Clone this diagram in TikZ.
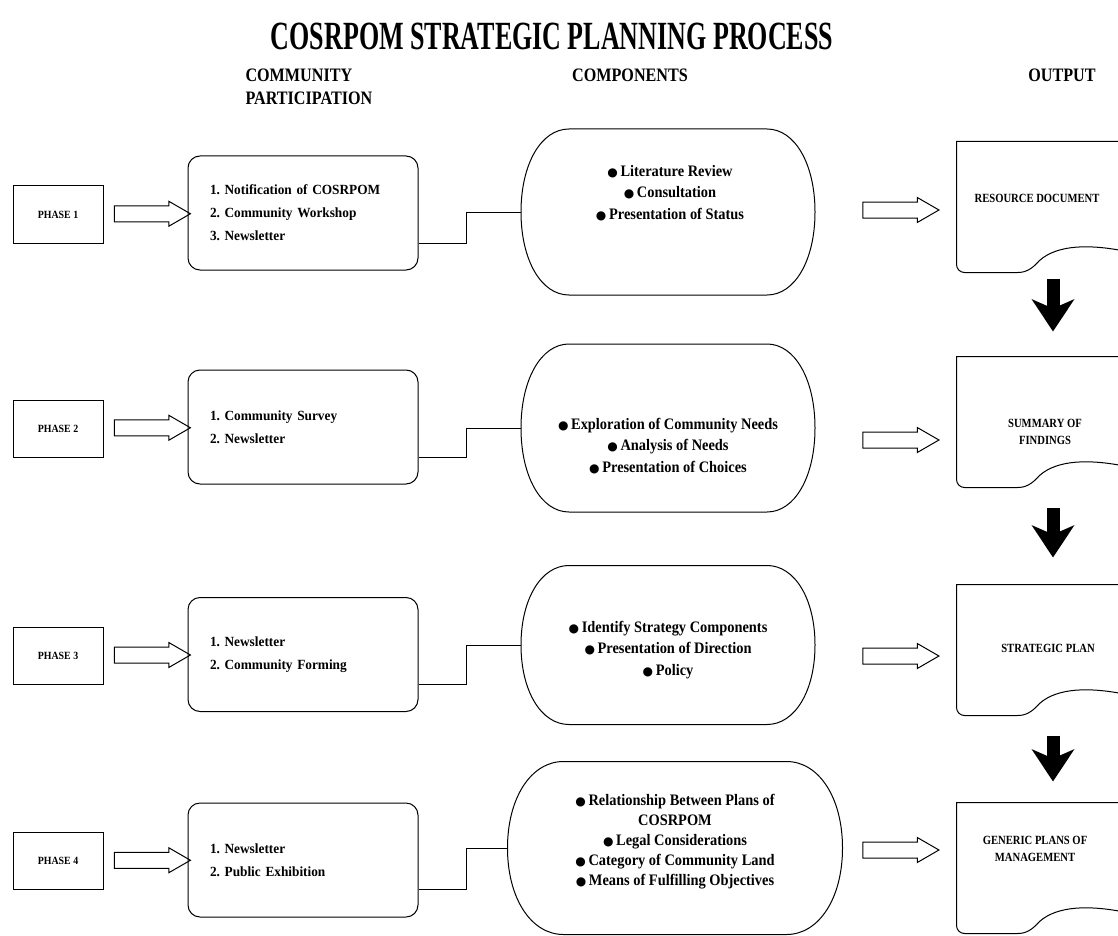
\documentclass[tikz,border=0pt]{standalone}
\usepackage{fontspec}
\setmainfont{Liberation Serif}
\newfontfamily\ttlfont[FakeStretch=0.65]{Liberation Serif Bold}
\newfontfamily\hdrfont[FakeStretch=0.85]{Liberation Serif Bold}
\newfontfamily\txtfont[FakeStretch=0.9]{Liberation Serif Bold}
\newfontfamily\partfont[FakeStretch=0.95]{Liberation Serif Bold}
\newfontfamily\symfont{DejaVu Sans}
\usetikzlibrary{shapes.arrows,arrows.meta,calc}
\frenchspacing
\newcommand{\blt}{{\symfont\fontsize{12}{12}\selectfont ●}\,}
\newcommand{\docoutline}[1]{%
  \draw (#1.north west) -- (#1.north east) -- ($(#1.south east)+(0,-22)$)
    .. controls ($(#1.south east)+(-32,-28)$) and ($(#1.south east)+(-64,-28)$) .. ($(#1.south east)+(-82,-12)$)
    .. controls ($(#1.south east)+(-90,-3)$) and ($(#1.south east)+(-96,0)$) .. ($(#1.south east)+(-104,0)$)
    [rounded corners=8pt] -- (#1.south west) [sharp corners] -- cycle;}
\newcommand{\compoutline}[2]{%
  \draw ($(#1.north west)+(#2,0)$) -- ($(#1.north east)+(-#2,0)$)
    .. controls ($(#1.north east)+(-0.42*#2,0)$) and ($(#1.east)!0.58!(#1.north east)$) .. (#1.east)
    .. controls ($(#1.east)!0.58!(#1.south east)$) and ($(#1.south east)+(-0.42*#2,0)$) .. ($(#1.south east)+(-#2,0)$)
    -- ($(#1.south west)+(#2,0)$)
    .. controls ($(#1.south west)+(0.42*#2,0)$) and ($(#1.west)!0.58!(#1.south west)$) .. (#1.west)
    .. controls ($(#1.west)!0.58!(#1.north west)$) and ($(#1.north west)+(0.42*#2,0)$) .. ($(#1.north west)+(#2,0)$)
    -- cycle;}
\begin{document}
\begin{tikzpicture}[x=1pt, y=-1pt, line width=1pt,
    hdr/.style={inner sep=0pt, font=\hdrfont\fontsize{19}{23}\selectfont},
    phase/.style={draw, minimum width=90pt, minimum height=57pt, inner sep=0pt,
      font=\txtfont\fontsize{11}{13}\selectfont},
    part/.style={draw, rounded corners=12pt, minimum width=230pt, minimum height=114pt,
      text width=186pt, align=left, inner sep=0pt, font=\partfont\fontsize{14}{23}\selectfont},
    comp/.style={minimum width=293pt, minimum height=165pt, inner sep=0pt},
    comptext/.style={align=center, inner sep=0pt, font=\txtfont\fontsize{16}{21.5}\selectfont},
    docbox/.style={minimum width=164pt, minimum height=130pt, inner sep=0pt},
    doctext/.style={align=center, inner sep=0pt, font=\hdrfont\fontsize{12.5}{17}\selectfont},
    hollow/.style={draw, single arrow, single arrow head extend=4.5pt, single arrow tip angle=60,
      minimum height=76pt, inner sep=7.5pt},
    blk/.style={line width=13pt, -{Stealth[length=32pt, width=42pt, inset=9pt]}}]
  \useasboundingbox (0,0) rectangle (1118,936);

  \node[font=\ttlfont\fontsize{40}{40}\selectfont] (title) at (552,36) {COSRPOM STRATEGIC PLANNING PROCESS};
  \node[hdr, anchor=west, align=left] (hpart) at (245,86.5) {COMMUNITY\\PARTICIPATION};
  \node[hdr] (hcomp) at (630,75) {COMPONENTS};
  \node[hdr] (hout) at (1062,75) {OUTPUT};

  \node[phase] (ph1) at (58,214.5) {PHASE 1};
  \node[phase] (ph2) at (58,428.5) {PHASE 2};
  \node[phase] (ph3) at (58,655.5) {PHASE 3};
  \node[phase] (ph4) at (58,860.5) {PHASE 4};

  \node[part] (pa1) at (303,213) {1. Notification of COSRPOM\\2. Community Workshop\\3. Newsletter};
  \node[part] (pa2) at (303,427) {1. Community Survey\\2. Newsletter};
  \node[part] (pa3) at (303,654.5) {1. Newsletter\\2. Community Forming};
  \node[part] (pa4) at (303,860) {1. Newsletter\\2. Public Exhibition};

  \node[hollow] (ar1) at ($(ph1.east)!0.5!(pa1.west)$) {};
  \node[hollow] (ar2) at ($(ph2.east)!0.5!(pa2.west)$) {};
  \node[hollow] (ar3) at ($(ph3.east)!0.5!(pa3.west)$) {};
  \node[hollow] (ar4) at ($(ph4.east)!0.5!(pa4.west)$) {};

  \node[comp] (cm1) at (668,212) {};
  \node[comp, minimum height=167pt] (cm2) at (668,428) {};
  \node[comp, minimum height=158pt] (cm3) at (668,645) {};
  \node[comp, minimum width=334pt, minimum height=172pt] (cm4) at (675,848) {};
  \compoutline{cm1}{48}
  \compoutline{cm2}{48}
  \compoutline{cm3}{48}
  \compoutline{cm4}{56}
  \node[comptext] (cm1t) at (670,193) {\blt Literature Review\\\blt Consultation\\\blt Presentation of Status};
  \node[comptext] (cm2t) at (668,446) {\blt Exploration of Community Needs\\\blt Analysis of Needs\\\blt Presentation of Choices};
  \node[comptext] (cm3t) at (668,650) {\blt Identify Strategy Components\\\blt Presentation of Direction\\\blt Policy};
  \node[comptext, font=\txtfont\fontsize{16}{20}\selectfont] (cm4t) at (675,842)
    {\blt Relationship Between Plans of\\COSRPOM\\\blt Legal Considerations\\\blt Category of Community Land\\\blt Means of Fulfilling Objectives};

  \draw (pa1.east |- ph1.south) -- ++(48,0) |- (cm1.west);
  \draw (pa2.east |- ph2.south) -- ++(48,0) |- (cm2.west);
  \draw (pa3.east |- ph3.south) -- ++(48,0) |- (cm3.west);
  \draw (pa4.east |- ph4.south) -- ++(48,0) |- (cm4.west);

  \node[docbox] (d1) at (1039,207) {};
  \node[docbox] (d2) at (1039,422) {};
  \node[docbox] (d3) at (1039,650) {};
  \node[docbox] (d4) at (1039,868) {};
  \docoutline{d1}
  \docoutline{d2}
  \docoutline{d3}
  \docoutline{d4}
  \node[doctext] (d1t) at (1037,198) {RESOURCE DOCUMENT};
  \node[doctext] (d2t) at (1045,431.5) {SUMMARY OF\\FINDINGS};
  \node[doctext] (d3t) at (1048,648) {STRATEGIC PLAN};
  \node[doctext] (d4t) at (1035,848.5) {GENERIC PLANS OF\\MANAGEMENT};

  \node[hollow] (oa1) at (894,210) {};
  \node[hollow] (oa2) at (894,440) {};
  \node[hollow] (oa3) at (894,656) {};
  \node[hollow] (oa4) at (894,850) {};

  \draw[blk] ($(d1.south)+(14,6)$) -- ($(d2.north)+(14,-25)$);
  \draw[blk] ($(d2.south)+(14,20)$) -- ($(d3.north)+(14,-27)$);
  \draw[blk] ($(d3.south)+(14,20)$) -- ($(d4.north)+(14,-21)$);
\end{tikzpicture}
\end{document}
